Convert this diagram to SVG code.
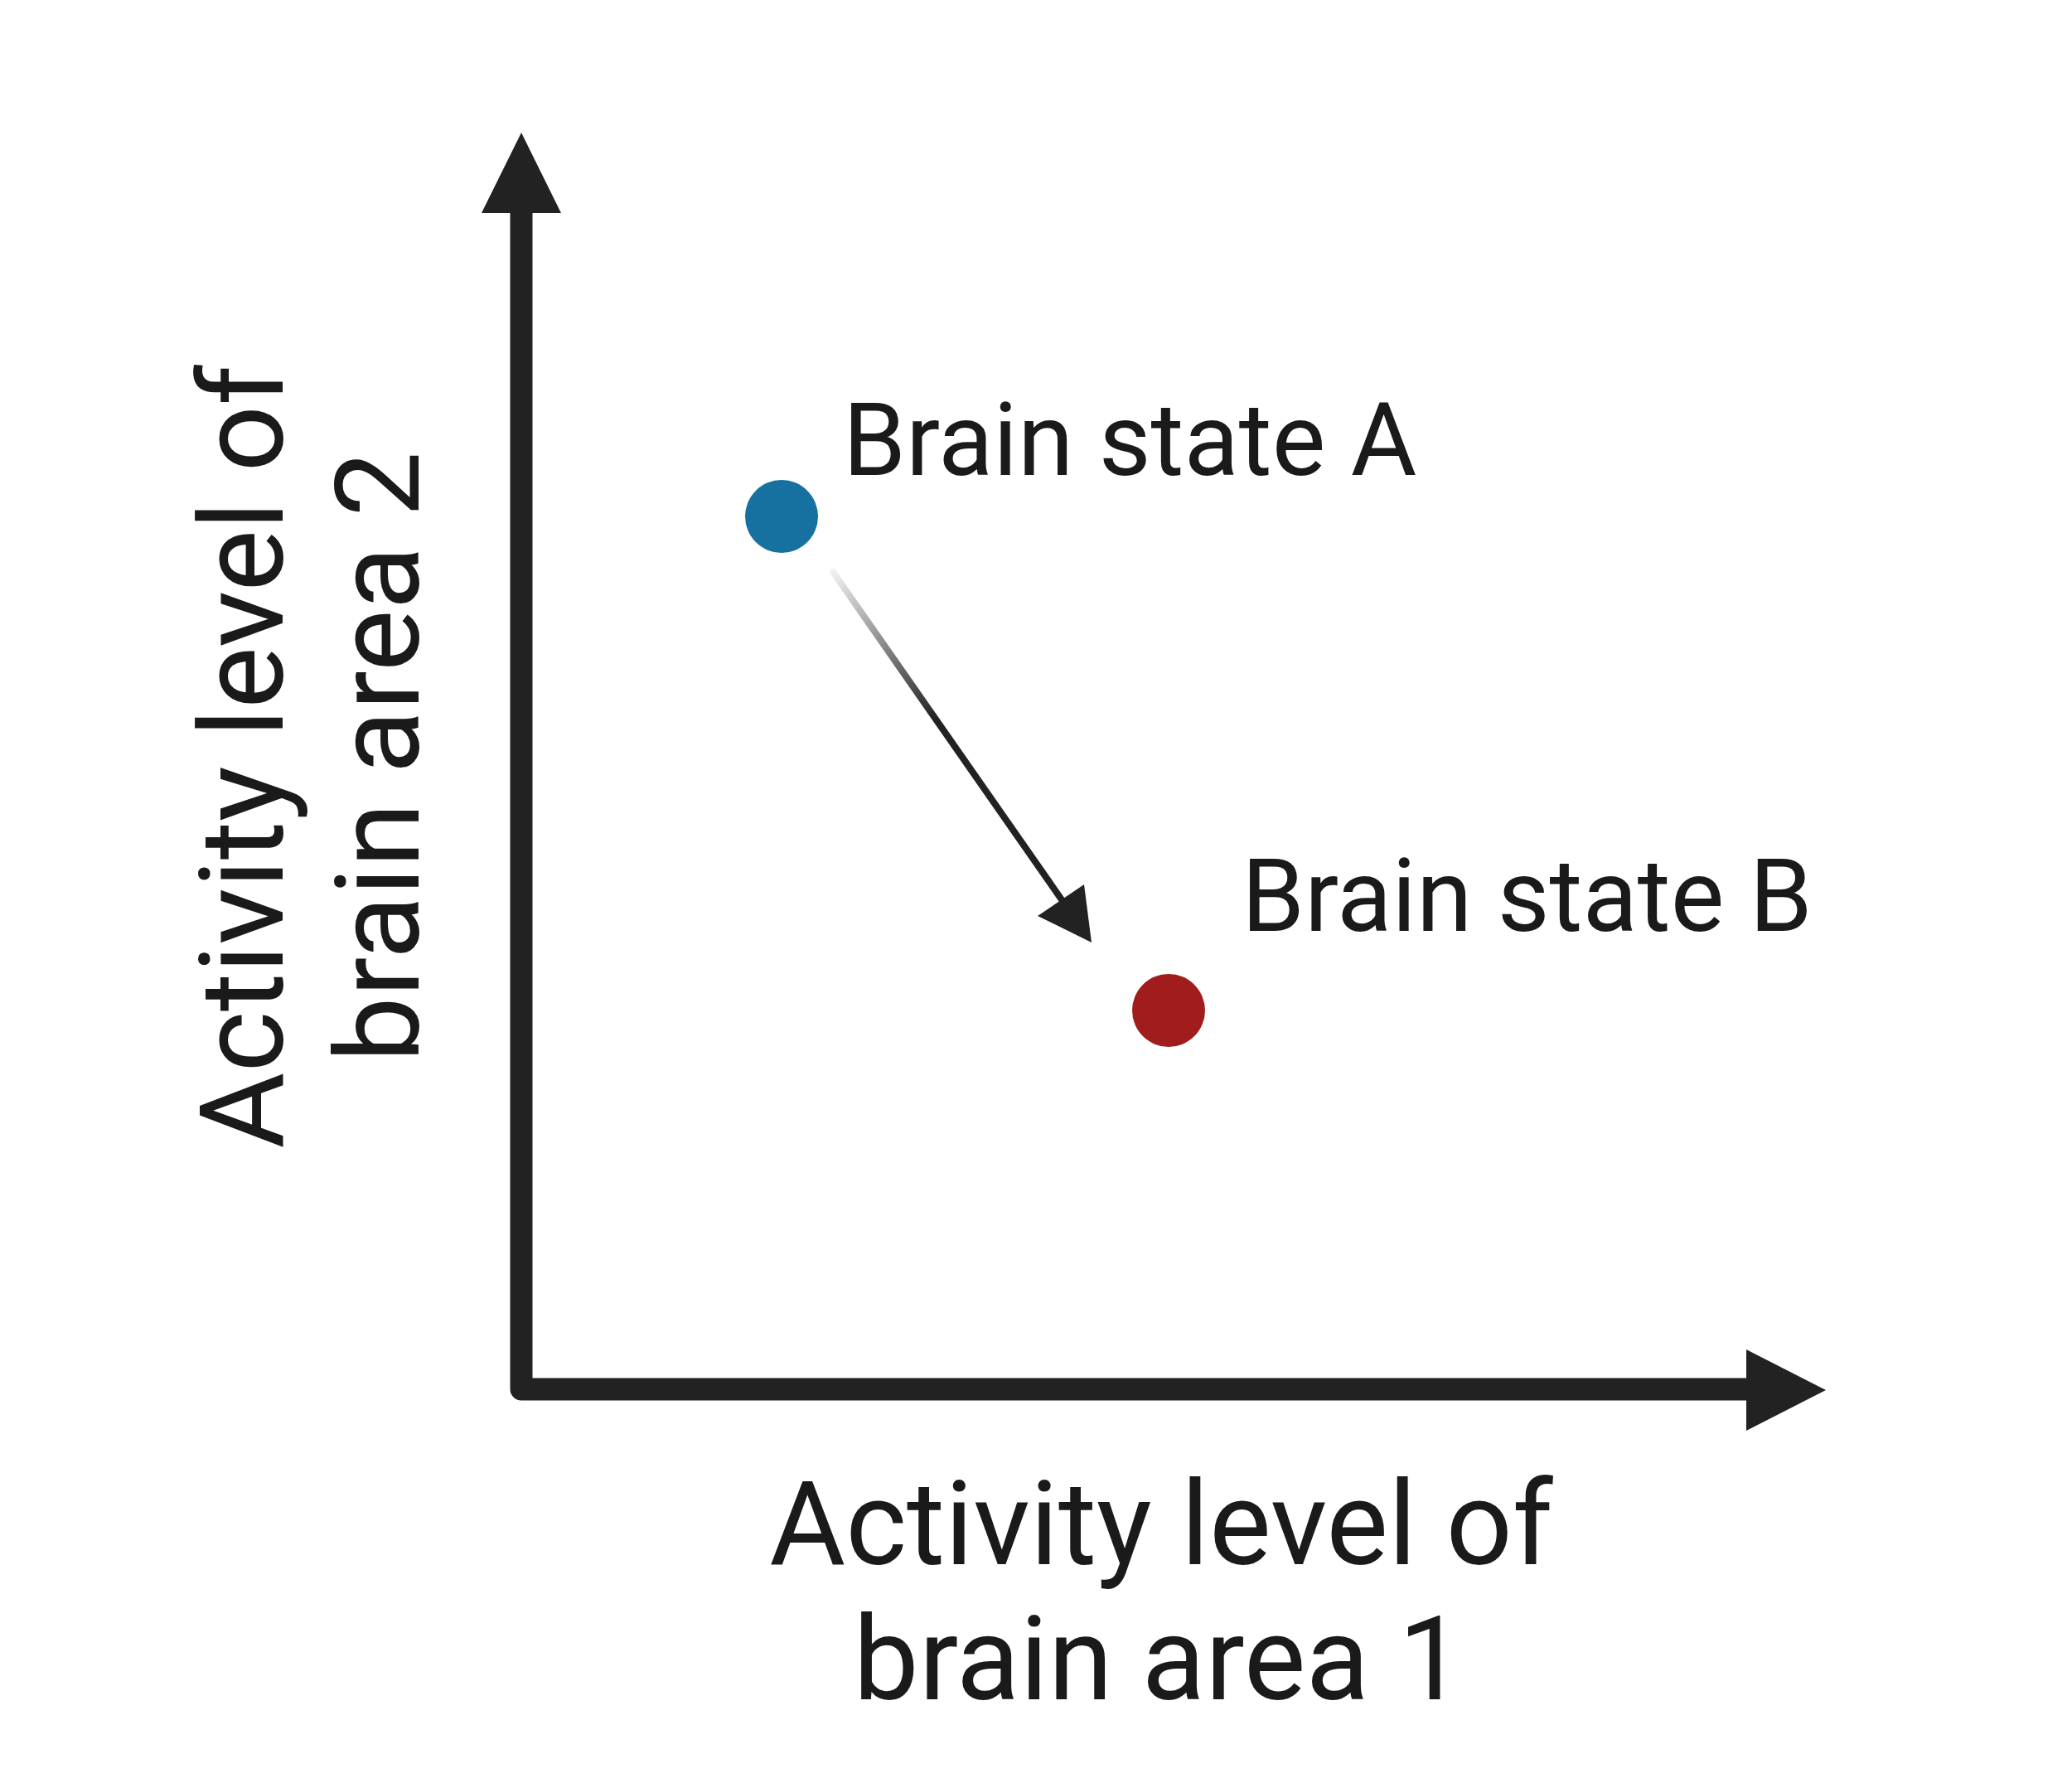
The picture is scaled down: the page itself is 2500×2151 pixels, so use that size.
<svg xmlns="http://www.w3.org/2000/svg" width="2500" height="2151" viewBox="0 0 2500 2151">
<style>
.lbl{font-family:Roboto,"Liberation Sans",Arial,sans-serif;fill:#1a1a1a}
.big{font-size:141px}
.st{font-size:122px}
.axis{stroke:#222222;stroke-width:27;fill:none;stroke-linejoin:round}
.head{fill:#222222}
</style>
<defs>
<linearGradient id="fade" gradientUnits="userSpaceOnUse" x1="1003" y1="687" x2="1317" y2="1137">
<stop offset="0" stop-color="#222222" stop-opacity="0.05"/>
<stop offset="0.4" stop-color="#222222" stop-opacity="1"/>
<stop offset="1" stop-color="#222222" stop-opacity="1"/>
</linearGradient>
</defs>
<rect width="2500" height="2151" fill="#ffffff"/>
<g id="connectors">
<g id="axes">
<path class="axis" d="M629 250 V1676 H2115"/>
<polygon class="head" points="629,160 677,257 581,257"/>
<polygon class="head" points="2203,1677 2107,1628 2107,1726"/>
</g>
<g id="transition">
<path d="M1003 687 L1287 1094" stroke="url(#fade)" stroke-width="8" fill="none"/>
<polygon class="head" points="1317,1137 1252,1105 1308,1067"/>
</g>
</g>
<g id="state-a">
<circle cx="943" cy="623" r="44" fill="#1670a0"/>
<text class="lbl st" x="1017" y="573">Brain state A</text>
</g>
<g id="state-b">
<circle cx="1410" cy="1219" r="44" fill="#a11c1d"/>
<text class="lbl st" x="1498" y="1123">Brain state B</text>
</g>
<g id="x-label">
<text class="lbl big" text-anchor="middle"><tspan x="1401" y="1887">Activity level of</tspan><tspan x="1398" y="2050">brain area 1</tspan></text>
</g>
<g id="y-label">
<text class="lbl big" text-anchor="middle" transform="translate(341 913) rotate(-90)"><tspan x="0" y="0">Activity level of</tspan><tspan x="0" y="164">brain area 2</tspan></text>
</g>
</svg>
